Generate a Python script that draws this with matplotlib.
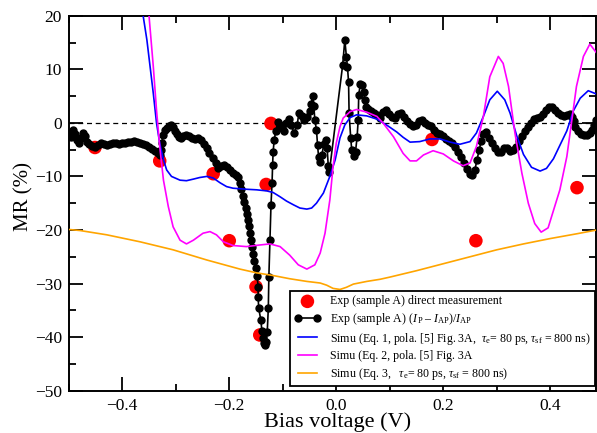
import numpy as np
import matplotlib
matplotlib.use("Agg")
import matplotlib.pyplot as plt
from matplotlib.ticker import MultipleLocator

plt.rcParams['font.family'] = ['Liberation Serif', 'DejaVu Serif']
plt.rcParams['mathtext.fontset'] = 'custom'
plt.rcParams['mathtext.rm'] = 'Liberation Serif'
plt.rcParams['mathtext.it'] = 'Liberation Serif:italic'

# direct measurement (red dots)
red_v = [-0.451, -0.330, -0.230, -0.200, -0.150, -0.143, -0.131, -0.122, 0.179, 0.261, 0.450]
red_mr = [-4.6, -7.1, -9.5, -22.0, -30.6, -39.6, -11.5, -0.1, -3.1, -22.0, -12.1]

# (I_P - I_AP)/I_AP (black dots)
exp_v = [-0.500, -0.496, -0.492, -0.488, -0.485, -0.481, -0.477, -0.473, -0.470, -0.466,
         -0.462, -0.457, -0.451, -0.445, -0.440, -0.434, -0.429, -0.423, -0.417, -0.412,
         -0.406, -0.401, -0.395, -0.389, -0.384, -0.378, -0.373, -0.367, -0.361, -0.356,
         -0.350, -0.344, -0.339, -0.333, -0.330, -0.328, -0.326, -0.324, -0.320, -0.316,
         -0.313, -0.309, -0.305, -0.301, -0.298, -0.294, -0.290, -0.287, -0.281, -0.275,
         -0.270, -0.264, -0.258, -0.253, -0.247, -0.242, -0.237, -0.230, -0.225, -0.221,
         -0.216, -0.210, -0.204, -0.199, -0.193, -0.188, -0.184, -0.180, -0.178, -0.174,
         -0.173, -0.169, -0.167, -0.165, -0.163, -0.161, -0.159, -0.158, -0.156, -0.154,
         -0.150, -0.148, -0.146, -0.146, -0.145, -0.141, -0.139, -0.137, -0.135, -0.133,
         -0.131, -0.129, -0.127, -0.126, -0.124, -0.122, -0.120, -0.119, -0.118, -0.116,
         -0.113, -0.109, -0.105, -0.101, -0.098, -0.094, -0.088, -0.084, -0.079, -0.073,
         -0.070, -0.064, -0.060, -0.055, -0.050, -0.047, -0.044, -0.042, -0.040, -0.037,
         -0.035, -0.033, -0.030, -0.027, -0.023, -0.019, -0.017, -0.015, -0.013, 0.012,
         0.016, 0.019, 0.021, 0.023, 0.024, 0.027, 0.029, 0.033, 0.036, 0.039,
         0.041, 0.042, 0.045, 0.048, 0.051, 0.054, 0.056, 0.060, 0.065, 0.070,
         0.076, 0.082, 0.087, 0.093, 0.098, 0.104, 0.110, 0.115, 0.121, 0.127,
         0.132, 0.138, 0.143, 0.149, 0.154, 0.160, 0.166, 0.171, 0.177, 0.183,
         0.188, 0.194, 0.200, 0.205, 0.211, 0.216, 0.222, 0.228, 0.234, 0.239,
         0.244, 0.250, 0.254, 0.259, 0.263, 0.267, 0.271, 0.274, 0.280, 0.285,
         0.291, 0.297, 0.302, 0.308, 0.313, 0.319, 0.325, 0.330, 0.336, 0.341,
         0.347, 0.353, 0.358, 0.364, 0.369, 0.375, 0.381, 0.386, 0.392, 0.397,
         0.403, 0.409, 0.414, 0.420, 0.425, 0.431, 0.437, 0.440, 0.444, 0.447,
         0.451, 0.457, 0.463, 0.469, 0.474, 0.478, 0.482, 0.486]
exp_mr = [-1.9, -2.6, -1.3, -2.1, -3.2, -3.8, -2.8, -1.9, -2.4, -3.6,
          -3.9, -4.3, -4.5, -4.1, -3.8, -3.9, -4.1, -3.9, -3.8, -3.8,
          -3.9, -3.8, -3.8, -3.6, -3.6, -3.4, -3.6, -3.8, -3.9, -4.1,
          -4.5, -4.9, -5.2, -5.6, -6.0, -5.1, -3.8, -2.3, -1.3, -0.95,
          -0.6, -0.4, -0.8, -1.5, -2.1, -2.6, -2.8, -2.4, -2.3, -2.4,
          -2.8, -3.0, -2.8, -3.2, -3.9, -4.7, -5.6, -6.6, -7.5, -8.4,
          -8.0, -7.9, -8.2, -8.8, -9.4, -9.7, -10.1, -11.2, -12.3, -13.6,
          -14.8, -15.9, -17.0, -18.1, -19.2, -20.6, -21.9, -23.2, -24.5, -25.8,
          -27.1, -28.6, -30.6, -32.5, -34.6, -36.8, -38.8, -40.2, -41.1, -41.5,
          -40.9, -39.0, -34.6, -28.8, -21.9, -15.3, -11.2, -7.9, -5.4, -3.2,
          -1.5, 0.2, -0.4, -0.95, -1.5, 0.0, 0.7, -0.4, -1.9, -0.4,
          1.8, 1.3, 0.5, 1.1, 2.2, 3.5, 5.0, 3.2, 0.5, -1.3,
          -4.1, -6.4, -7.3, -6.0, -3.9, -3.2, -4.7, -8.0, -9.2, 10.8,
          15.5, 12.3, 10.4, 7.6, 1.8, -2.8, -5.1, -6.2, -5.4, -2.6,
          0.5, 5.2, 7.3, 7.1, 5.8, 4.3, 3.0, 2.6, 2.2, 1.8,
          1.5, 0.9, 2.0, 2.4, 1.7, 1.1, 0.9, 1.7, 1.8, 1.1,
          0.35, -0.2, -0.6, -0.4, 0.35, 0.5, 0.0, -0.4, -0.6, -1.3,
          -1.9, -2.1, -2.4, -3.0, -3.4, -3.8, -4.5, -5.4, -6.4, -7.5,
          -8.6, -9.5, -9.7, -8.8, -6.9, -5.1, -3.4, -2.1, -1.7, -2.8,
          -3.8, -4.7, -5.4, -5.4, -4.7, -4.7, -5.2, -5.1, -4.5, -3.4,
          -2.4, -1.5, -0.8, 0.0, 0.7, 0.9, 1.1, 1.7, 2.4, 3.0,
          3.0, 2.4, 1.8, 1.5, 1.3, 1.5, 1.7, 1.1, 0.35, -0.8,
          -1.5, -2.1, -2.3, -2.3, -1.9, -1.3, -0.4, 0.5]

# Simu Eq. 1 (blue)
blue_v = [-0.361, -0.354, -0.348, -0.342, -0.336, -0.330, -0.323, -0.317, -0.308, -0.292,
          -0.280, -0.267, -0.255, -0.242, -0.230, -0.217, -0.205, -0.193, -0.180, -0.167,
          -0.149, -0.130, -0.118, -0.105, -0.093, -0.080, -0.068, -0.055, -0.046, -0.037,
          -0.024, -0.012, -0.002, 0.007, 0.016, 0.026, 0.038, 0.057, 0.076, 0.094,
          0.113, 0.125, 0.138, 0.156, 0.175, 0.194, 0.213, 0.231, 0.250, 0.262,
          0.275, 0.287, 0.301, 0.315, 0.325, 0.337, 0.350, 0.365, 0.381, 0.393,
          0.406, 0.418, 0.431, 0.443, 0.456, 0.471, 0.486]
blue_mr = [20.0, 15.5, 10.5, 5.5, 0.0, -3.8, -6.9, -8.8, -10.0, -10.7,
           -10.8, -10.5, -10.2, -10.0, -10.3, -11.2, -11.9, -12.2, -12.3, -12.4,
           -12.5, -12.7, -13.0, -13.8, -14.6, -15.3, -15.9, -16.1, -15.9, -15.0,
           -13.1, -10.0, -6.9, -2.8, -0.4, 1.0, 1.5, 1.3, 0.7, -0.4,
           -1.7, -2.7, -3.6, -3.5, -3.0, -3.0, -3.6, -4.0, -3.5, -1.9,
           1.2, 4.3, 5.9, 4.3, 1.8, -2.3, -5.9, -8.3, -9.0, -8.5,
           -6.7, -4.2, -1.5, 2.2, 4.6, 6.0, 5.4]

# Simu Eq. 2 (magenta)
mag_v = [-0.350, -0.342, -0.336, -0.330, -0.323, -0.314, -0.305, -0.292, -0.280, -0.267,
         -0.249, -0.236, -0.224, -0.211, -0.193, -0.168, -0.143, -0.124, -0.105, -0.087,
         -0.071, -0.055, -0.040, -0.030, -0.021, -0.012, -0.006, 0.000, 0.007, 0.013,
         0.026, 0.038, 0.057, 0.076, 0.088, 0.107, 0.125, 0.138, 0.150, 0.163,
         0.181, 0.200, 0.219, 0.237, 0.250, 0.262, 0.275, 0.287, 0.303, 0.312,
         0.322, 0.334, 0.347, 0.359, 0.371, 0.383, 0.396, 0.409, 0.418, 0.431,
         0.443, 0.449, 0.462, 0.474, 0.487]
mag_mr = [20.0, 10.5, 2.4, -4.4, -10.7, -15.6, -19.4, -21.9, -22.6, -21.9,
          -20.6, -20.3, -20.9, -22.2, -22.9, -23.1, -22.8, -22.6, -23.1, -24.7,
          -26.5, -27.3, -26.5, -24.3, -20.6, -14.4, -8.2, -3.8, -0.7, 0.9,
          2.1, 2.5, 2.0, 1.2, -0.1, -2.6, -5.7, -7.1, -7.1, -6.0,
          -5.2, -5.8, -7.1, -8.0, -7.5, -4.4, 1.2, 8.6, 12.4, 11.1,
          6.8, -1.9, -9.4, -15.0, -18.8, -20.4, -19.6, -15.4, -12.5, -6.3,
          2.4, 6.8, 12.4, 14.7, 13.0]

# Simu Eq. 3 (orange)
or_v = [-0.500, -0.479, -0.429, -0.367, -0.305, -0.242, -0.180, -0.149, -0.118, -0.087,
        -0.055, -0.030, -0.018, -0.006, 0.007, 0.019, 0.032, 0.057, 0.082, 0.100,
        0.150, 0.200, 0.250, 0.300, 0.350, 0.400, 0.450, 0.487]
or_mr = [-19.9, -20.1, -20.9, -22.2, -23.7, -25.6, -27.3, -28.0, -28.5, -29.1,
         -29.6, -29.9, -30.3, -30.9, -31.1, -30.7, -30.1, -29.6, -29.2, -28.8,
         -27.6, -26.3, -25.0, -23.7, -22.6, -21.6, -20.7, -20.0]

fig = plt.figure(figsize=(5.97, 4.33), dpi=100)
ax = fig.add_axes([0.1152, 0.0977, 0.8839, 0.866])

ax.axhline(0, color='black', ls='--', lw=0.9, dashes=(4, 3), zorder=1)

h_red = ax.scatter(red_v, red_mr, s=95, color='red', edgecolors='none', zorder=2,
                   label='Exp (sample A) direct measurement')
h_exp, = ax.plot(exp_v, exp_mr, 'o-', color='black', ms=5, lw=1.2, zorder=3,
                 label=r'Exp (sample A) ($I_{\,\mathrm{P}}$ – $I_\mathrm{AP}$)/$I_\mathrm{AP}$')
h_blue, = ax.plot(blue_v, blue_mr, color='blue', lw=1.2, zorder=4,
                  label=r'Simu (Eq. 1, pola. [5] Fig. 3A,  $\tau_\mathrm{e}$= 80 ps, $\tau_\mathrm{sf}$ = 800 ns)')
h_mag, = ax.plot(mag_v, mag_mr, color='magenta', lw=1.2, zorder=4,
                 label='Simu (Eq. 2, pola. [5] Fig. 3A')
h_or, = ax.plot(or_v, or_mr, color='orange', lw=1.2, zorder=4,
                label=r'Simu (Eq. 3,   $\tau_\mathrm{e}$= 80 ps, $\tau_\mathrm{sf}$ = 800 ns)')

ax.set_xlim(-0.5, 0.4864)
ax.set_ylim(-50, 20)
ax.xaxis.set_major_locator(MultipleLocator(0.2))
ax.xaxis.set_minor_locator(MultipleLocator(0.1))
ax.yaxis.set_major_locator(MultipleLocator(10))
ax.yaxis.set_minor_locator(MultipleLocator(5))
ax.tick_params(which='both', direction='in', top=True, right=True, width=1.3,
               labelsize=12.5, pad=5)
ax.tick_params(which='major', length=10)
ax.tick_params(which='minor', length=5)
for sp in ax.spines.values():
    sp.set_linewidth(1.4)

ax.set_xlabel('Bias voltage (V)', fontsize=16, labelpad=-1)
ax.set_ylabel('MR (%)', fontsize=15, labelpad=1)
ax.xaxis.label.set_x(0.51)
ax.yaxis.label.set_y(0.518)

leg = ax.legend(handles=[h_red, h_exp, h_blue, h_mag, h_or], loc='lower right',
                bbox_to_anchor=(0.997, 0.0125), borderaxespad=0, fontsize=8.6,
                numpoints=2, scatterpoints=1, fancybox=False, framealpha=1,
                edgecolor='black', handlelength=2.2, handletextpad=0.8,
                labelspacing=0.3, borderpad=0.35)
leg.get_frame().set_linewidth(1.3)

fig.savefig('out.png', dpi=100)
